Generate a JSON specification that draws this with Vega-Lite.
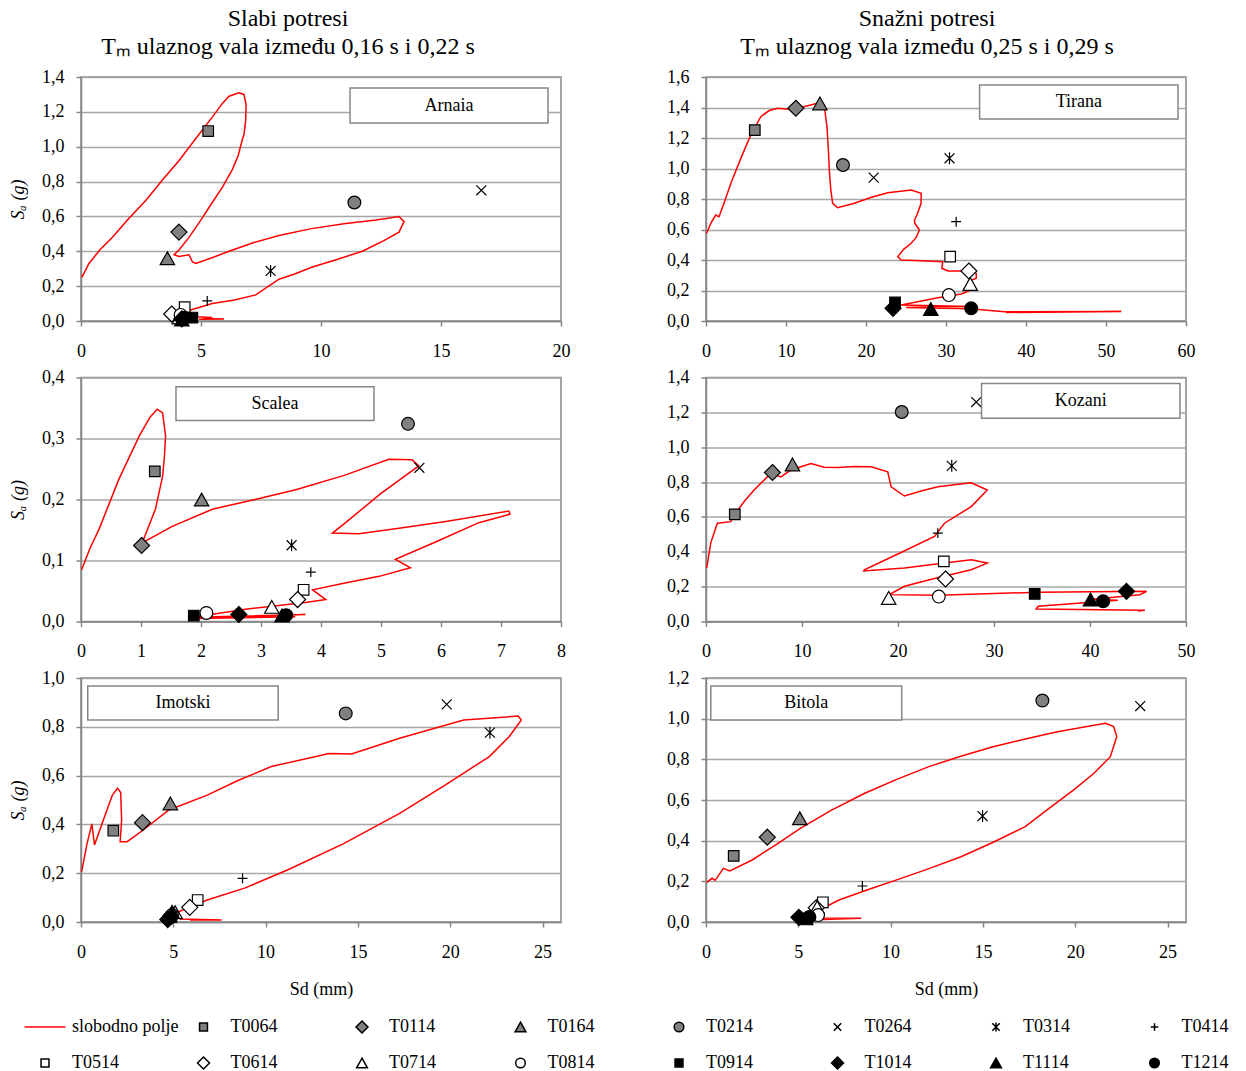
{
  "$schema": "https://vega.github.io/schema/vega-lite/v6.json",
  "padding": {"left": 8, "top": 6, "right": 10, "bottom": 2},
  "config": {
    "font": "Liberation Serif",
    "locale": {"number": {"decimal": ",", "thousands": ".", "grouping": [3], "currency": ["", ""]}},
    "view": {"stroke": "#868686", "strokeWidth": 1.5},
    "axis": {"labelFont": "Liberation Serif", "labelFontSize": 18, "labelColor": "#000", "titleFont": "Liberation Serif", "titleFontSize": 18, "titleFontWeight": "normal", "titleColor": "#000", "domainColor": "#868686", "tickColor": "#868686", "gridColor": "#a6a6a6", "domainWidth": 1.5, "tickWidth": 1.5, "gridWidth": 1.3, "tickSize": 5, "labelOverlap": false},
    "axisX": {"grid": false, "labelPadding": 16, "titlePadding": 19, "labelFlush": false},
    "axisY": {"grid": true, "labelPadding": 12, "titlePadding": 14, "titleFontStyle": "italic", "labelFlush": false},
    "legend": {"columns": 8, "direction": "horizontal", "gridAlign": "all", "symbolSize": 144, "symbolStrokeWidth": 1.5, "labelFont": "Liberation Serif", "labelFontSize": 18, "labelColor": "#000", "labelOffset": 18, "columnPadding": 15.5, "rowPadding": 18, "labelLimit": 300},
    "title": {"font": "Liberation Serif", "fontSize": 24, "fontWeight": "normal", "color": "#000", "lineHeight": 28, "offset": 9, "anchor": "middle", "frame": "group"}
  },
  "datasets": {
    "crv": [
      {"st":"Arnaia","x":0.03,"y":0.25},{"st":"Arnaia","x":0.15,"y":0.28},{"st":"Arnaia","x":0.33,"y":0.33},{"st":"Arnaia","x":0.8,"y":0.41},{"st":"Arnaia","x":1.31,"y":0.48},{"st":"Arnaia","x":2.0,"y":0.59},{"st":"Arnaia","x":2.69,"y":0.69},{"st":"Arnaia","x":3.4,"y":0.81},{"st":"Arnaia","x":4.08,"y":0.92},{"st":"Arnaia","x":4.8,"y":1.05},{"st":"Arnaia","x":5.47,"y":1.17},{"st":"Arnaia","x":5.9,"y":1.25},{"st":"Arnaia","x":6.17,"y":1.29},{"st":"Arnaia","x":6.58,"y":1.31},{"st":"Arnaia","x":6.79,"y":1.3},{"st":"Arnaia","x":6.88,"y":1.24},{"st":"Arnaia","x":6.86,"y":1.15},{"st":"Arnaia","x":6.79,"y":1.07},{"st":"Arnaia","x":6.72,"y":1.04},{"st":"Arnaia","x":6.55,"y":0.95},{"st":"Arnaia","x":6.31,"y":0.87},{"st":"Arnaia","x":5.9,"y":0.77},{"st":"Arnaia","x":5.47,"y":0.68},{"st":"Arnaia","x":5.0,"y":0.58},{"st":"Arnaia","x":4.5,"y":0.48},{"st":"Arnaia","x":4.1,"y":0.41},{"st":"Arnaia","x":3.88,"y":0.38},{"st":"Arnaia","x":4.08,"y":0.37},{"st":"Arnaia","x":4.5,"y":0.38},{"st":"Arnaia","x":4.64,"y":0.34},{"st":"Arnaia","x":4.78,"y":0.33},{"st":"Arnaia","x":5.4,"y":0.36},{"st":"Arnaia","x":6.17,"y":0.4},{"st":"Arnaia","x":7.2,"y":0.45},{"st":"Arnaia","x":8.25,"y":0.49},{"st":"Arnaia","x":9.6,"y":0.53},{"st":"Arnaia","x":11.03,"y":0.56},{"st":"Arnaia","x":12.3,"y":0.58},{"st":"Arnaia","x":13.25,"y":0.6},{"st":"Arnaia","x":13.46,"y":0.57},{"st":"Arnaia","x":13.25,"y":0.51},{"st":"Arnaia","x":12.6,"y":0.46},{"st":"Arnaia","x":11.72,"y":0.4},{"st":"Arnaia","x":10.6,"y":0.35},{"st":"Arnaia","x":9.64,"y":0.31},{"st":"Arnaia","x":8.9,"y":0.27},{"st":"Arnaia","x":8.25,"y":0.24},{"st":"Arnaia","x":7.28,"y":0.15},{"st":"Arnaia","x":6.4,"y":0.12},{"st":"Arnaia","x":5.47,"y":0.1},{"st":"Arnaia","x":4.5,"y":0.06},{"st":"Arnaia","x":4.2,"y":0.04},{"st":"Arnaia","x":4.78,"y":0.025},{"st":"Arnaia","x":5.47,"y":0.02},{"st":"Arnaia","x":5.06,"y":0.015},{"st":"Arnaia","x":5.96,"y":0.012},{"st":"Arnaia","x":4.92,"y":0.01},
      {"st":"Tirana","x":0.08,"y":0.575},{"st":"Tirana","x":0.6,"y":0.64},{"st":"Tirana","x":1.21,"y":0.695},{"st":"Tirana","x":1.63,"y":0.684},{"st":"Tirana","x":2.3,"y":0.78},{"st":"Tirana","x":3.09,"y":0.9},{"st":"Tirana","x":4.3,"y":1.06},{"st":"Tirana","x":5.6,"y":1.22},{"st":"Tirana","x":6.85,"y":1.34},{"st":"Tirana","x":7.9,"y":1.38},{"st":"Tirana","x":8.93,"y":1.395},{"st":"Tirana","x":10.4,"y":1.388},{"st":"Tirana","x":12.2,"y":1.405},{"st":"Tirana","x":13.95,"y":1.427},{"st":"Tirana","x":14.78,"y":1.416},{"st":"Tirana","x":15.12,"y":1.274},{"st":"Tirana","x":15.3,"y":1.12},{"st":"Tirana","x":15.41,"y":0.99},{"st":"Tirana","x":15.6,"y":0.86},{"st":"Tirana","x":15.83,"y":0.772},{"st":"Tirana","x":16.45,"y":0.743},{"st":"Tirana","x":18.54,"y":0.772},{"st":"Tirana","x":20.6,"y":0.81},{"st":"Tirana","x":22.71,"y":0.841},{"st":"Tirana","x":25.64,"y":0.859},{"st":"Tirana","x":26.89,"y":0.837},{"st":"Tirana","x":26.89,"y":0.772},{"st":"Tirana","x":26.4,"y":0.7},{"st":"Tirana","x":26.06,"y":0.662},{"st":"Tirana","x":26.1,"y":0.64},{"st":"Tirana","x":26.68,"y":0.597},{"st":"Tirana","x":26.3,"y":0.55},{"st":"Tirana","x":25.64,"y":0.51},{"st":"Tirana","x":24.7,"y":0.47},{"st":"Tirana","x":23.97,"y":0.422},{"st":"Tirana","x":24.39,"y":0.4},{"st":"Tirana","x":26.89,"y":0.395},{"st":"Tirana","x":29.6,"y":0.389},{"st":"Tirana","x":29.48,"y":0.346},{"st":"Tirana","x":30.23,"y":0.328},{"st":"Tirana","x":32.3,"y":0.328},{"st":"Tirana","x":33.78,"y":0.313},{"st":"Tirana","x":33.78,"y":0.28},{"st":"Tirana","x":32.73,"y":0.258},{"st":"Tirana","x":33.15,"y":0.203},{"st":"Tirana","x":31.9,"y":0.177},{"st":"Tirana","x":28.98,"y":0.153},{"st":"Tirana","x":24.39,"y":0.105},{"st":"Tirana","x":33.2,"y":0.095},{"st":"Tirana","x":25.0,"y":0.088},{"st":"Tirana","x":33.0,"y":0.08},{"st":"Tirana","x":37.3,"y":0.06},{"st":"Tirana","x":51.9,"y":0.062},{"st":"Tirana","x":37.5,"y":0.056},{"st":"Tirana","x":38.2,"y":0.058},
      {"st":"Scalea","x":0.01,"y":0.085},{"st":"Scalea","x":0.15,"y":0.12},{"st":"Scalea","x":0.3,"y":0.151},{"st":"Scalea","x":0.63,"y":0.233},{"st":"Scalea","x":0.97,"y":0.304},{"st":"Scalea","x":1.15,"y":0.335},{"st":"Scalea","x":1.27,"y":0.348},{"st":"Scalea","x":1.36,"y":0.342},{"st":"Scalea","x":1.41,"y":0.304},{"st":"Scalea","x":1.39,"y":0.27},{"st":"Scalea","x":1.36,"y":0.238},{"st":"Scalea","x":1.24,"y":0.184},{"st":"Scalea","x":1.02,"y":0.129},{"st":"Scalea","x":1.52,"y":0.156},{"st":"Scalea","x":2.19,"y":0.184},{"st":"Scalea","x":2.9,"y":0.2},{"st":"Scalea","x":3.58,"y":0.216},{"st":"Scalea","x":4.4,"y":0.24},{"st":"Scalea","x":5.13,"y":0.266},{"st":"Scalea","x":5.52,"y":0.265},{"st":"Scalea","x":5.63,"y":0.255},{"st":"Scalea","x":5.0,"y":0.21},{"st":"Scalea","x":4.41,"y":0.162},{"st":"Scalea","x":4.19,"y":0.145},{"st":"Scalea","x":4.63,"y":0.144},{"st":"Scalea","x":5.3,"y":0.153},{"st":"Scalea","x":6.08,"y":0.164},{"st":"Scalea","x":7.13,"y":0.181},{"st":"Scalea","x":7.15,"y":0.176},{"st":"Scalea","x":6.63,"y":0.162},{"st":"Scalea","x":5.9,"y":0.13},{"st":"Scalea","x":5.24,"y":0.102},{"st":"Scalea","x":5.49,"y":0.088},{"st":"Scalea","x":4.97,"y":0.074},{"st":"Scalea","x":4.4,"y":0.063},{"st":"Scalea","x":3.86,"y":0.052},{"st":"Scalea","x":4.08,"y":0.036},{"st":"Scalea","x":3.74,"y":0.031},{"st":"Scalea","x":2.74,"y":0.02},{"st":"Scalea","x":1.87,"y":0.007},{"st":"Scalea","x":3.74,"y":0.0115},{"st":"Scalea","x":1.88,"y":0.005},{"st":"Scalea","x":3.57,"y":0.0077},
      {"st":"Kozani","x":0.07,"y":0.307},{"st":"Kozani","x":0.49,"y":0.45},{"st":"Kozani","x":1.18,"y":0.564},{"st":"Kozani","x":2.57,"y":0.573},{"st":"Kozani","x":3.0,"y":0.615},{"st":"Kozani","x":4.0,"y":0.69},{"st":"Kozani","x":5.01,"y":0.754},{"st":"Kozani","x":6.75,"y":0.85},{"st":"Kozani","x":7.8,"y":0.83},{"st":"Kozani","x":8.84,"y":0.869},{"st":"Kozani","x":10.93,"y":0.907},{"st":"Kozani","x":12.3,"y":0.885},{"st":"Kozani","x":13.71,"y":0.884},{"st":"Kozani","x":15.5,"y":0.89},{"st":"Kozani","x":17.19,"y":0.888},{"st":"Kozani","x":18.93,"y":0.859},{"st":"Kozani","x":19.28,"y":0.773},{"st":"Kozani","x":20.67,"y":0.72},{"st":"Kozani","x":22.5,"y":0.75},{"st":"Kozani","x":24.15,"y":0.773},{"st":"Kozani","x":27.63,"y":0.796},{"st":"Kozani","x":29.3,"y":0.754},{"st":"Kozani","x":27.63,"y":0.659},{"st":"Kozani","x":24.84,"y":0.564},{"st":"Kozani","x":23.8,"y":0.488},{"st":"Kozani","x":20.1,"y":0.39},{"st":"Kozani","x":16.49,"y":0.297},{"st":"Kozani","x":16.43,"y":0.29},{"st":"Kozani","x":20.67,"y":0.307},{"st":"Kozani","x":24.0,"y":0.33},{"st":"Kozani","x":27.63,"y":0.354},{"st":"Kozani","x":29.3,"y":0.335},{"st":"Kozani","x":27.63,"y":0.297},{"st":"Kozani","x":24.0,"y":0.25},{"st":"Kozani","x":20.67,"y":0.202},{"st":"Kozani","x":19.1,"y":0.154},{"st":"Kozani","x":24.15,"y":0.15},{"st":"Kozani","x":34.59,"y":0.168},{"st":"Kozani","x":45.9,"y":0.173},{"st":"Kozani","x":45.2,"y":0.154},{"st":"Kozani","x":40.0,"y":0.126},{"st":"Kozani","x":42.9,"y":0.122},{"st":"Kozani","x":34.59,"y":0.087},{"st":"Kozani","x":34.4,"y":0.072},{"st":"Kozani","x":45.72,"y":0.065},{"st":"Kozani","x":45.0,"y":0.06},
      {"st":"Imotski","x":0.03,"y":0.206},{"st":"Imotski","x":0.33,"y":0.322},{"st":"Imotski","x":0.59,"y":0.402},{"st":"Imotski","x":0.73,"y":0.316},{"st":"Imotski","x":1.28,"y":0.432},{"st":"Imotski","x":1.7,"y":0.52},{"st":"Imotski","x":1.98,"y":0.548},{"st":"Imotski","x":2.15,"y":0.531},{"st":"Imotski","x":2.2,"y":0.418},{"st":"Imotski","x":2.12,"y":0.329},{"st":"Imotski","x":2.5,"y":0.329},{"st":"Imotski","x":3.37,"y":0.377},{"st":"Imotski","x":4.76,"y":0.459},{"st":"Imotski","x":6.84,"y":0.52},{"st":"Imotski","x":8.5,"y":0.58},{"st":"Imotski","x":10.31,"y":0.637},{"st":"Imotski","x":13.44,"y":0.691},{"st":"Imotski","x":14.65,"y":0.689},{"st":"Imotski","x":17.26,"y":0.753},{"st":"Imotski","x":20.73,"y":0.828},{"st":"Imotski","x":23.68,"y":0.844},{"st":"Imotski","x":23.85,"y":0.828},{"st":"Imotski","x":23.2,"y":0.76},{"st":"Imotski","x":22.12,"y":0.678},{"st":"Imotski","x":19.7,"y":0.56},{"st":"Imotski","x":17.26,"y":0.445},{"st":"Imotski","x":14.2,"y":0.32},{"st":"Imotski","x":11.18,"y":0.213},{"st":"Imotski","x":8.9,"y":0.14},{"st":"Imotski","x":6.84,"y":0.09},{"st":"Imotski","x":5.28,"y":0.042},{"st":"Imotski","x":5.4,"y":0.012},{"st":"Imotski","x":7.62,"y":0.008},{"st":"Imotski","x":5.9,"y":0.008},
      {"st":"Bitola","x":0.04,"y":0.195},{"st":"Bitola","x":0.33,"y":0.215},{"st":"Bitola","x":0.5,"y":0.205},{"st":"Bitola","x":0.94,"y":0.264},{"st":"Bitola","x":1.29,"y":0.251},{"st":"Bitola","x":2.5,"y":0.305},{"st":"Bitola","x":3.8,"y":0.38},{"st":"Bitola","x":5.11,"y":0.461},{"st":"Bitola","x":6.8,"y":0.55},{"st":"Bitola","x":8.6,"y":0.633},{"st":"Bitola","x":10.3,"y":0.7},{"st":"Bitola","x":12.07,"y":0.764},{"st":"Bitola","x":13.8,"y":0.815},{"st":"Bitola","x":15.55,"y":0.862},{"st":"Bitola","x":17.3,"y":0.9},{"st":"Bitola","x":19.03,"y":0.936},{"st":"Bitola","x":21.64,"y":0.977},{"st":"Bitola","x":22.08,"y":0.961},{"st":"Bitola","x":22.25,"y":0.912},{"st":"Bitola","x":21.9,"y":0.813},{"st":"Bitola","x":21.0,"y":0.73},{"st":"Bitola","x":19.9,"y":0.649},{"st":"Bitola","x":18.6,"y":0.56},{"st":"Bitola","x":17.29,"y":0.469},{"st":"Bitola","x":15.5,"y":0.39},{"st":"Bitola","x":13.81,"y":0.321},{"st":"Bitola","x":12.0,"y":0.26},{"st":"Bitola","x":10.33,"y":0.207},{"st":"Bitola","x":8.8,"y":0.16},{"st":"Bitola","x":7.2,"y":0.108},{"st":"Bitola","x":6.33,"y":0.067},{"st":"Bitola","x":5.97,"y":0.02},{"st":"Bitola","x":8.42,"y":0.018},{"st":"Bitola","x":6.33,"y":0.012}
    ],
    "pts": [
      {"st":"Arnaia","s":"T0064","x":5.3,"y":1.09},{"st":"Arnaia","s":"T0114","x":4.08,"y":0.51},{"st":"Arnaia","s":"T0164","x":3.6,"y":0.36},{"st":"Arnaia","s":"T0214","x":11.39,"y":0.68},{"st":"Arnaia","s":"T0264","x":16.68,"y":0.75},{"st":"Arnaia","s":"T0314","x":7.9,"y":0.287},{"st":"Arnaia","s":"T0414","x":5.26,"y":0.115},{"st":"Arnaia","s":"T0514","x":4.32,"y":0.08},{"st":"Arnaia","s":"T0614","x":3.78,"y":0.04},{"st":"Arnaia","s":"T0714","x":4.1,"y":0.02},{"st":"Arnaia","s":"T0814","x":4.15,"y":0.035},{"st":"Arnaia","s":"T0914","x":4.64,"y":0.02},{"st":"Arnaia","s":"T1014","x":4.2,"y":0.012},{"st":"Arnaia","s":"T1114","x":4.2,"y":0.008},{"st":"Arnaia","s":"T1214","x":4.3,"y":0.018},
      {"st":"Tirana","s":"T0064","x":6.1,"y":1.252},{"st":"Tirana","s":"T0114","x":11.23,"y":1.395},{"st":"Tirana","s":"T0164","x":14.24,"y":1.427},{"st":"Tirana","s":"T0214","x":17.12,"y":1.023},{"st":"Tirana","s":"T0264","x":20.96,"y":0.94},{"st":"Tirana","s":"T0314","x":30.44,"y":1.067},{"st":"Tirana","s":"T0414","x":31.27,"y":0.651},{"st":"Tirana","s":"T0514","x":30.52,"y":0.422},{"st":"Tirana","s":"T0614","x":32.86,"y":0.328},{"st":"Tirana","s":"T0714","x":33.03,"y":0.243},{"st":"Tirana","s":"T0814","x":30.36,"y":0.17},{"st":"Tirana","s":"T0914","x":23.63,"y":0.122},{"st":"Tirana","s":"T1014","x":23.38,"y":0.083},{"st":"Tirana","s":"T1114","x":28.1,"y":0.079},{"st":"Tirana","s":"T1214","x":33.15,"y":0.083},
      {"st":"Scalea","s":"T0064","x":1.23,"y":0.246},{"st":"Scalea","s":"T0114","x":1.01,"y":0.1246},{"st":"Scalea","s":"T0164","x":2.01,"y":0.2},{"st":"Scalea","s":"T0214","x":5.45,"y":0.324},{"st":"Scalea","s":"T0264","x":5.64,"y":0.252},{"st":"Scalea","s":"T0314","x":3.51,"y":0.125},{"st":"Scalea","s":"T0414","x":3.83,"y":0.081},{"st":"Scalea","s":"T0514","x":3.71,"y":0.052},{"st":"Scalea","s":"T0614","x":3.61,"y":0.036},{"st":"Scalea","s":"T0714","x":3.18,"y":0.024},{"st":"Scalea","s":"T0814","x":2.09,"y":0.014},{"st":"Scalea","s":"T0914","x":1.88,"y":0.0098},{"st":"Scalea","s":"T1014","x":2.63,"y":0.0115},{"st":"Scalea","s":"T1114","x":3.35,"y":0.01},{"st":"Scalea","s":"T1214","x":3.42,"y":0.0104},
      {"st":"Kozani","s":"T0064","x":3.0,"y":0.615},{"st":"Kozani","s":"T0114","x":6.92,"y":0.855},{"st":"Kozani","s":"T0164","x":9.01,"y":0.901},{"st":"Kozani","s":"T0214","x":20.39,"y":1.202},{"st":"Kozani","s":"T0264","x":28.15,"y":1.259},{"st":"Kozani","s":"T0314","x":25.6,"y":0.893},{"st":"Kozani","s":"T0414","x":24.15,"y":0.507},{"st":"Kozani","s":"T0514","x":24.77,"y":0.345},{"st":"Kozani","s":"T0614","x":24.95,"y":0.244},{"st":"Kozani","s":"T0714","x":19.03,"y":0.135},{"st":"Kozani","s":"T0814","x":24.25,"y":0.143},{"st":"Kozani","s":"T0914","x":34.24,"y":0.158},{"st":"Kozani","s":"T1014","x":43.8,"y":0.173},{"st":"Kozani","s":"T1114","x":40.05,"y":0.126},{"st":"Kozani","s":"T1214","x":41.37,"y":0.116},
      {"st":"Imotski","s":"T0064","x":1.75,"y":0.374},{"st":"Imotski","s":"T0114","x":3.33,"y":0.407},{"st":"Imotski","s":"T0164","x":4.84,"y":0.486},{"st":"Imotski","s":"T0214","x":14.34,"y":0.855},{"st":"Imotski","s":"T0264","x":19.81,"y":0.892},{"st":"Imotski","s":"T0314","x":22.15,"y":0.776},{"st":"Imotski","s":"T0414","x":8.75,"y":0.179},{"st":"Imotski","s":"T0514","x":6.32,"y":0.09},{"st":"Imotski","s":"T0614","x":5.89,"y":0.06},{"st":"Imotski","s":"T0714","x":5.1,"y":0.04},{"st":"Imotski","s":"T0814","x":4.93,"y":0.029},{"st":"Imotski","s":"T0914","x":4.9,"y":0.02},{"st":"Imotski","s":"T1014","x":4.7,"y":0.01},{"st":"Imotski","s":"T1114","x":4.93,"y":0.042},{"st":"Imotski","s":"T1214","x":4.76,"y":0.015},
      {"st":"Bitola","s":"T0064","x":1.5,"y":0.325},{"st":"Bitola","s":"T0114","x":3.32,"y":0.417},{"st":"Bitola","s":"T0164","x":5.08,"y":0.51},{"st":"Bitola","s":"T0214","x":18.22,"y":1.089},{"st":"Bitola","s":"T0264","x":23.52,"y":1.062},{"st":"Bitola","s":"T0314","x":14.98,"y":0.521},{"st":"Bitola","s":"T0414","x":8.47,"y":0.177},{"st":"Bitola","s":"T0514","x":6.33,"y":0.097},{"st":"Bitola","s":"T0614","x":5.97,"y":0.07},{"st":"Bitola","s":"T0714","x":6.02,"y":0.072},{"st":"Bitola","s":"T0814","x":6.07,"y":0.034},{"st":"Bitola","s":"T0914","x":5.46,"y":0.018},{"st":"Bitola","s":"T1014","x":5.03,"y":0.023},{"st":"Bitola","s":"T1114","x":5.4,"y":0.018},{"st":"Bitola","s":"T1214","x":5.6,"y":0.025}
    ]
  },
  "columns": 2,
  "spacing": {"row": 56.5, "column": 145},
  "bounds": "flush",
  "concat": [
    {
      "width": 480, "height": 244,
      "title": {"text": ["Slabi potresi", "Tₘ ulaznog vala između 0,16 s i  0,22 s"], "dx": -33},
      "layer": [
        {"data": {"name": "crv"}, "transform": [{"filter": "datum.st === 'Arnaia'"}],
         "mark": {"type": "line", "color": "#ff0000", "strokeWidth": 1.5, "clip": true},
         "encoding": {"x": {"field": "x", "type": "quantitative", "scale": {"domain": [0, 20]}, "axis": {"values": [0, 5, 10, 15, 20], "tickCount": 50, "format": "d", "title": null}},
                      "y": {"field": "y", "type": "quantitative", "scale": {"domain": [0, 1.4]}, "axis": {"values": [0, 0.2, 0.4, 0.6, 0.8, 1.0, 1.2, 1.4], "tickCount": 50, "format": ".1f", "title": "Sₐ (g)"}},
                      "order": {"value": null}}},
        {"data": {"name": "pts"}, "transform": [{"filter": "datum.st === 'Arnaia'"}],
         "mark": {"type": "point", "opacity": 1, "strokeWidth": 1.2, "size": 256},
         "encoding": {"x": {"field": "x", "type": "quantitative"}, "y": {"field": "y", "type": "quantitative"},
           "shape": {"field": "s", "type": "nominal", "scale": {"domain": ["slobodno polje","T0064","T0114","T0164","T0214","T0264","T0314","T0414","T0514","T0614","T0714","T0814","T0914","T1014","T1114","T1214"], "range": ["M-3.4,0H3.4","M-0.66,-0.66H0.66V0.66H-0.66Z","M0,-1L1,0L0,1L-1,0Z","M0,-0.8L0.9,0.8H-0.9Z","M-0.8,0A0.8,0.8,0,1,1,0.8,0A0.8,0.8,0,1,1,-0.8,0Z","M-0.62,-0.62L0.62,0.62M-0.62,0.62L0.62,-0.62","M-0.62,-0.62L0.62,0.62M-0.62,0.62L0.62,-0.62M0,-0.75V0.75","M-0.62,0H0.62M0,-0.62V0.62","M-0.66,-0.66H0.66V0.66H-0.66Z","M0,-1L1,0L0,1L-1,0Z","M0,-0.8L0.9,0.8H-0.9Z","M-0.8,0A0.8,0.8,0,1,1,0.8,0A0.8,0.8,0,1,1,-0.8,0Z","M-0.66,-0.66H0.66V0.66H-0.66Z","M0,-1L1,0L0,1L-1,0Z","M0,-0.8L0.9,0.8H-0.9Z","M-0.8,0A0.8,0.8,0,1,1,0.8,0A0.8,0.8,0,1,1,-0.8,0Z"]}, "legend": {"title": null, "orient": "none", "legendX": -45, "legendY": 941}},
           "fill": {"field": "s", "type": "nominal", "scale": {"domain": ["slobodno polje","T0064","T0114","T0164","T0214","T0264","T0314","T0414","T0514","T0614","T0714","T0814","T0914","T1014","T1114","T1214"], "range": ["transparent","#808080","#808080","#808080","#808080","transparent","transparent","transparent","#ffffff","#ffffff","#ffffff","#ffffff","#000000","#000000","#000000","#000000"]}, "legend": {"title": null, "orient": "none", "legendX": -45, "legendY": 941}},
           "stroke": {"field": "s", "type": "nominal", "scale": {"domain": ["slobodno polje","T0064","T0114","T0164","T0214","T0264","T0314","T0414","T0514","T0614","T0714","T0814","T0914","T1014","T1114","T1214"], "range": ["#ff0000","#000000","#000000","#000000","#000000","#000000","#000000","#000000","#000000","#000000","#000000","#000000","#000000","#000000","#000000","#000000"]}, "legend": {"title": null, "orient": "none", "legendX": -45, "legendY": 941}}}},
        {"data": {"values": [{"st": "Arnaia"}]},
         "mark": {"type": "rect", "fill": "#ffffff", "stroke": "#868686", "strokeWidth": 1.5},
         "encoding": {"x": {"datum": 11.21, "type": "quantitative"}, "x2": {"datum": 19.46}, "y": {"datum": 1.337, "type": "quantitative"}, "y2": {"datum": 1.136}}},
        {"data": {"values": [{"st": "Arnaia"}]},
         "mark": {"type": "text", "font": "Liberation Serif", "fontSize": 18, "align": "center", "baseline": "middle"},
         "encoding": {"x": {"datum": 15.33, "type": "quantitative"}, "y": {"datum": 1.236, "type": "quantitative"}, "text": {"field": "st"}}}
      ]
    },
    {
      "width": 480, "height": 244,
      "title": {"text": ["Snažni potresi", "Tₘ ulaznog vala između 0,25 s i  0,29 s"], "dx": -19},
      "layer": [
        {"data": {"name": "crv"}, "transform": [{"filter": "datum.st === 'Tirana'"}],
         "mark": {"type": "line", "color": "#ff0000", "strokeWidth": 1.5, "clip": true},
         "encoding": {"x": {"field": "x", "type": "quantitative", "scale": {"domain": [0, 60]}, "axis": {"values": [0, 10, 20, 30, 40, 50, 60], "tickCount": 50, "format": "d", "title": null}},
                      "y": {"field": "y", "type": "quantitative", "scale": {"domain": [0, 1.6]}, "axis": {"values": [0, 0.2, 0.4, 0.6, 0.8, 1.0, 1.2, 1.4, 1.6], "tickCount": 50, "format": ".1f", "title": null}},
                      "order": {"value": null}}},
        {"data": {"name": "pts"}, "transform": [{"filter": "datum.st === 'Tirana'"}],
         "mark": {"type": "point", "opacity": 1, "strokeWidth": 1.2, "size": 256},
         "encoding": {"x": {"field": "x", "type": "quantitative"}, "y": {"field": "y", "type": "quantitative"},
           "shape": {"field": "s", "type": "nominal", "legend": {"title": null, "orient": "none", "legendX": -45, "legendY": 941}},
           "fill": {"field": "s", "type": "nominal", "legend": {"title": null, "orient": "none", "legendX": -45, "legendY": 941}},
           "stroke": {"field": "s", "type": "nominal", "legend": {"title": null, "orient": "none", "legendX": -45, "legendY": 941}}}},
        {"data": {"values": [{"st": "Tirana"}]},
         "mark": {"type": "rect", "fill": "#ffffff", "stroke": "#868686", "strokeWidth": 1.5},
         "encoding": {"x": {"datum": 34.2, "type": "quantitative"}, "x2": {"datum": 59.0}, "y": {"datum": 1.548, "type": "quantitative"}, "y2": {"datum": 1.325}}},
        {"data": {"values": [{"st": "Tirana"}]},
         "mark": {"type": "text", "font": "Liberation Serif", "fontSize": 18, "align": "center", "baseline": "middle"},
         "encoding": {"x": {"datum": 46.6, "type": "quantitative"}, "y": {"datum": 1.437, "type": "quantitative"}, "text": {"field": "st"}}}
      ]
    },
    {
      "width": 480, "height": 244,
      "layer": [
        {"data": {"name": "crv"}, "transform": [{"filter": "datum.st === 'Scalea'"}],
         "mark": {"type": "line", "color": "#ff0000", "strokeWidth": 1.5, "clip": true},
         "encoding": {"x": {"field": "x", "type": "quantitative", "scale": {"domain": [0, 8]}, "axis": {"values": [0, 1, 2, 3, 4, 5, 6, 7, 8], "tickCount": 50, "format": "d", "title": null}},
                      "y": {"field": "y", "type": "quantitative", "scale": {"domain": [0, 0.4]}, "axis": {"values": [0, 0.1, 0.2, 0.3, 0.4], "tickCount": 50, "format": ".1f", "title": "Sₐ (g)"}},
                      "order": {"value": null}}},
        {"data": {"name": "pts"}, "transform": [{"filter": "datum.st === 'Scalea'"}],
         "mark": {"type": "point", "opacity": 1, "strokeWidth": 1.2, "size": 256},
         "encoding": {"x": {"field": "x", "type": "quantitative"}, "y": {"field": "y", "type": "quantitative"},
           "shape": {"field": "s", "type": "nominal", "legend": {"title": null, "orient": "none", "legendX": -45, "legendY": 941}},
           "fill": {"field": "s", "type": "nominal", "legend": {"title": null, "orient": "none", "legendX": -45, "legendY": 941}},
           "stroke": {"field": "s", "type": "nominal", "legend": {"title": null, "orient": "none", "legendX": -45, "legendY": 941}}}},
        {"data": {"values": [{"st": "Scalea"}]},
         "mark": {"type": "rect", "fill": "#ffffff", "stroke": "#868686", "strokeWidth": 1.5},
         "encoding": {"x": {"datum": 1.583, "type": "quantitative"}, "x2": {"datum": 4.883}, "y": {"datum": 0.385, "type": "quantitative"}, "y2": {"datum": 0.3295}}},
        {"data": {"values": [{"st": "Scalea"}]},
         "mark": {"type": "text", "font": "Liberation Serif", "fontSize": 18, "align": "center", "baseline": "middle"},
         "encoding": {"x": {"datum": 3.233, "type": "quantitative"}, "y": {"datum": 0.357, "type": "quantitative"}, "text": {"field": "st"}}}
      ]
    },
    {
      "width": 480, "height": 244,
      "layer": [
        {"data": {"name": "crv"}, "transform": [{"filter": "datum.st === 'Kozani'"}],
         "mark": {"type": "line", "color": "#ff0000", "strokeWidth": 1.5, "clip": true},
         "encoding": {"x": {"field": "x", "type": "quantitative", "scale": {"domain": [0, 50]}, "axis": {"values": [0, 10, 20, 30, 40, 50], "tickCount": 50, "format": "d", "title": null}},
                      "y": {"field": "y", "type": "quantitative", "scale": {"domain": [0, 1.4]}, "axis": {"values": [0, 0.2, 0.4, 0.6, 0.8, 1.0, 1.2, 1.4], "tickCount": 50, "format": ".1f", "title": null}},
                      "order": {"value": null}}},
        {"data": {"name": "pts"}, "transform": [{"filter": "datum.st === 'Kozani'"}],
         "mark": {"type": "point", "opacity": 1, "strokeWidth": 1.2, "size": 256},
         "encoding": {"x": {"field": "x", "type": "quantitative"}, "y": {"field": "y", "type": "quantitative"},
           "shape": {"field": "s", "type": "nominal", "legend": {"title": null, "orient": "none", "legendX": -45, "legendY": 941}},
           "fill": {"field": "s", "type": "nominal", "legend": {"title": null, "orient": "none", "legendX": -45, "legendY": 941}},
           "stroke": {"field": "s", "type": "nominal", "legend": {"title": null, "orient": "none", "legendX": -45, "legendY": 941}}}},
        {"data": {"values": [{"st": "Kozani"}]},
         "mark": {"type": "rect", "fill": "#ffffff", "stroke": "#868686", "strokeWidth": 1.5},
         "encoding": {"x": {"datum": 28.7, "type": "quantitative"}, "x2": {"datum": 49.37}, "y": {"datum": 1.366, "type": "quantitative"}, "y2": {"datum": 1.166}}},
        {"data": {"values": [{"st": "Kozani"}]},
         "mark": {"type": "text", "font": "Liberation Serif", "fontSize": 18, "align": "center", "baseline": "middle"},
         "encoding": {"x": {"datum": 39.03, "type": "quantitative"}, "y": {"datum": 1.266, "type": "quantitative"}, "text": {"field": "st"}}}
      ]
    },
    {
      "width": 480, "height": 244,
      "layer": [
        {"data": {"name": "crv"}, "transform": [{"filter": "datum.st === 'Imotski'"}],
         "mark": {"type": "line", "color": "#ff0000", "strokeWidth": 1.5, "clip": true},
         "encoding": {"x": {"field": "x", "type": "quantitative", "scale": {"domain": [0, 25]}, "axis": {"values": [0, 5, 10, 15, 20, 25], "tickCount": 50, "format": "d", "title": "Sd (mm)"}},
                      "y": {"field": "y", "type": "quantitative", "scale": {"domain": [0, 1.0]}, "axis": {"values": [0, 0.2, 0.4, 0.6, 0.8, 1.0], "tickCount": 50, "format": ".1f", "title": "Sₐ (g)"}},
                      "order": {"value": null}}},
        {"data": {"name": "pts"}, "transform": [{"filter": "datum.st === 'Imotski'"}],
         "mark": {"type": "point", "opacity": 1, "strokeWidth": 1.2, "size": 256},
         "encoding": {"x": {"field": "x", "type": "quantitative"}, "y": {"field": "y", "type": "quantitative"},
           "shape": {"field": "s", "type": "nominal", "legend": {"title": null, "orient": "none", "legendX": -45, "legendY": 941}},
           "fill": {"field": "s", "type": "nominal", "legend": {"title": null, "orient": "none", "legendX": -45, "legendY": 941}},
           "stroke": {"field": "s", "type": "nominal", "legend": {"title": null, "orient": "none", "legendX": -45, "legendY": 941}}}},
        {"data": {"values": [{"st": "Imotski"}]},
         "mark": {"type": "rect", "fill": "#ffffff", "stroke": "#868686", "strokeWidth": 1.5},
         "encoding": {"x": {"datum": 0.365, "type": "quantitative"}, "x2": {"datum": 10.68}, "y": {"datum": 0.967, "type": "quantitative"}, "y2": {"datum": 0.828}}},
        {"data": {"values": [{"st": "Imotski"}]},
         "mark": {"type": "text", "font": "Liberation Serif", "fontSize": 18, "align": "center", "baseline": "middle"},
         "encoding": {"x": {"datum": 5.52, "type": "quantitative"}, "y": {"datum": 0.8975, "type": "quantitative"}, "text": {"field": "st"}}}
      ]
    },
    {
      "width": 480, "height": 244,
      "layer": [
        {"data": {"name": "crv"}, "transform": [{"filter": "datum.st === 'Bitola'"}],
         "mark": {"type": "line", "color": "#ff0000", "strokeWidth": 1.5, "clip": true},
         "encoding": {"x": {"field": "x", "type": "quantitative", "scale": {"domain": [0, 25]}, "axis": {"values": [0, 5, 10, 15, 20, 25], "tickCount": 50, "format": "d", "title": "Sd (mm)"}},
                      "y": {"field": "y", "type": "quantitative", "scale": {"domain": [0, 1.2]}, "axis": {"values": [0, 0.2, 0.4, 0.6, 0.8, 1.0, 1.2], "tickCount": 50, "format": ".1f", "title": null}},
                      "order": {"value": null}}},
        {"data": {"name": "pts"}, "transform": [{"filter": "datum.st === 'Bitola'"}],
         "mark": {"type": "point", "opacity": 1, "strokeWidth": 1.2, "size": 256},
         "encoding": {"x": {"field": "x", "type": "quantitative"}, "y": {"field": "y", "type": "quantitative"},
           "shape": {"field": "s", "type": "nominal", "legend": {"title": null, "orient": "none", "legendX": -45, "legendY": 941}},
           "fill": {"field": "s", "type": "nominal", "legend": {"title": null, "orient": "none", "legendX": -45, "legendY": 941}},
           "stroke": {"field": "s", "type": "nominal", "legend": {"title": null, "orient": "none", "legendX": -45, "legendY": 941}}}},
        {"data": {"values": [{"st": "Bitola"}]},
         "mark": {"type": "rect", "fill": "#ffffff", "stroke": "#868686", "strokeWidth": 1.5},
         "encoding": {"x": {"datum": 0.26, "type": "quantitative"}, "x2": {"datum": 10.6}, "y": {"datum": 1.161, "type": "quantitative"}, "y2": {"datum": 0.994}}},
        {"data": {"values": [{"st": "Bitola"}]},
         "mark": {"type": "text", "font": "Liberation Serif", "fontSize": 18, "align": "center", "baseline": "middle"},
         "encoding": {"x": {"datum": 5.43, "type": "quantitative"}, "y": {"datum": 1.0775, "type": "quantitative"}, "text": {"field": "st"}}}
      ]
    }
  ]
}
